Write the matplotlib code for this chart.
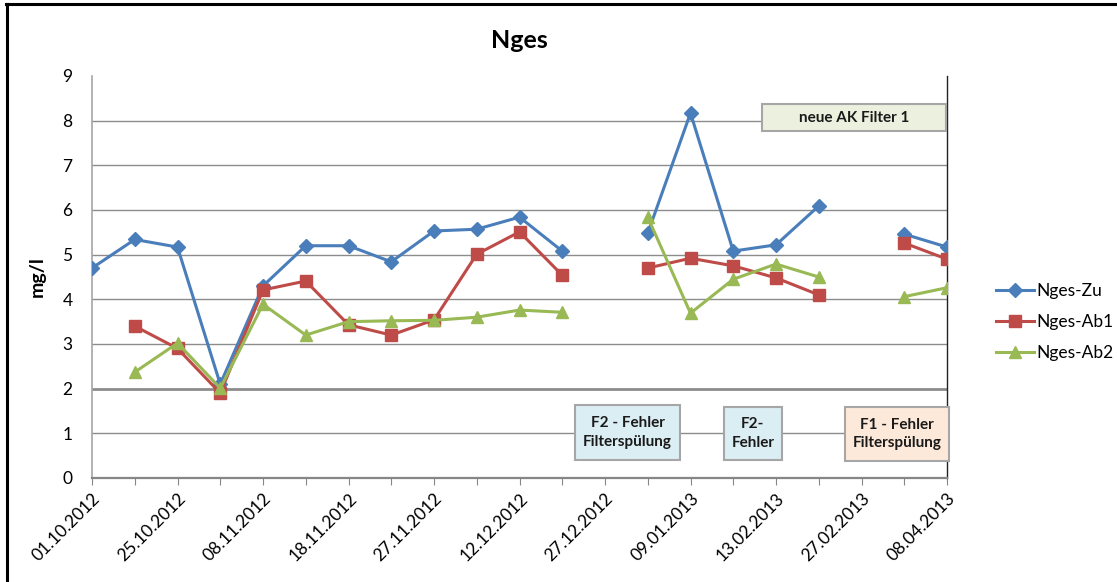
import numpy as np
import matplotlib
matplotlib.use("Agg")
import matplotlib.pyplot as plt
from matplotlib.lines import Line2D
from matplotlib.patches import Rectangle

plt.rcParams['font.family'] = ['Lato', 'DejaVu Sans']

# Sampling dates (21 samples; every second one is labelled on the axis)
tick_labels = ["01.10.2012", "25.10.2012", "08.11.2012", "18.11.2012", "27.11.2012",
               "12.12.2012", "27.12.2012", "09.01.2013", "13.02.2013", "27.02.2013",
               "08.04.2013"]
n_samples = 21

nan = np.nan
nges_zu = [4.70, 5.34, 5.17, 2.10, 4.30, 5.20, 5.20, 4.84, 5.53, 5.57, 5.84, 5.08,
           nan, 5.48, 8.17, 5.08, 5.22, 6.09, nan, 5.46, 5.17]
nges_ab1 = [nan, 3.40, 2.90, 1.90, 4.21, 4.41, 3.43, 3.20, 3.54, 5.01, 5.51, 4.54,
            nan, 4.70, 4.92, 4.75, 4.48, 4.10, nan, 5.26, 4.90]
nges_ab2 = [nan, 2.37, 3.02, 2.01, 3.89, 3.20, 3.50, 3.52, 3.53, 3.60, 3.76, 3.71,
            nan, 5.84, 3.69, 4.45, 4.79, 4.50, nan, 4.06, 4.26]

series = [
    ("Nges-Zu", nges_zu, "#4A7EBB", "D", 7),
    ("Nges-Ab1", nges_ab1, "#BE4B48", "s", 8.5),
    ("Nges-Ab2", nges_ab2, "#98B954", "^", 9),
]

fig = plt.figure(figsize=(11.17, 5.82), dpi=100)
ax = fig.add_axes([92 / 1117, 1 - 478 / 582, (947 - 92) / 1117, (478 - 76) / 582])

x = np.arange(n_samples)

# horizontal grid
for g in range(1, 9):
    ax.axhline(g, color="#8C8C8C", lw=2.0 if g == 2 else 1.0, zorder=1)

for name, vals, col, mk, ms in series:
    ax.plot(x, vals, color=col, lw=2.2, marker=mk, markersize=ms,
            markerfacecolor=col, markeredgecolor=col, label=name, zorder=3)

ax.set_xlim(0, n_samples - 1)
ax.set_ylim(0, 9)
ax.set_yticks(range(0, 10))
ax.tick_params(axis="y", length=0, labelsize=12.5, pad=14)
ax.set_xticks(x)
ax.set_xticklabels([tick_labels[i // 2] if i % 2 == 0 else "" for i in x],
                   rotation=45, ha="right", va="top", rotation_mode="anchor",
                   fontsize=12.5)
ax.tick_params(axis="x", length=5, color="#868686", direction="out", pad=4)

ax.spines["top"].set_visible(False)
ax.spines["left"].set_color("#A6A6A6")
ax.spines["left"].set_linewidth(1.2)
ax.spines["bottom"].set_color("#868686")
ax.spines["bottom"].set_linewidth(1.6)
ax.spines["right"].set_color("#222222")
ax.spines["right"].set_linewidth(1.0)

ax.set_ylabel("mg/l", fontsize=14, fontweight="bold", labelpad=12)
ax.set_title("Nges", fontsize=18, fontweight="bold", pad=20)


def note(x0, x1, y0, y1, text, face):
    ax.add_patch(Rectangle((x0, y0), x1 - x0, y1 - y0, facecolor=face,
                           edgecolor="#A6A6A6", lw=1.5, zorder=4, clip_on=False))
    ax.text((x0 + x1) / 2, (y0 + y1) / 2, text, ha="center", va="center",
            fontsize=11, fontweight="bold", color="#1A1A1A", zorder=5,
            linespacing=1.4)


note(15.67, 19.98, 7.77, 8.37, "neue AK Filter 1", "#EBF1DE")
note(11.30, 13.75, 0.40, 1.63, "F2 - Fehler\nFilterspülung", "#DBEEF4")
note(14.78, 16.14, 0.40, 1.59, "F2-\nFehler", "#DBEEF4")
note(17.61, 20.05, 0.38, 1.59, "F1 - Fehler\nFilterspülung", "#FDE9D9")

fig.legend(loc="center left", bbox_to_anchor=(980 / 1117, 1 - 322 / 582),
           frameon=False, fontsize=12.5, handlelength=2.2, handletextpad=0.15,
           labelspacing=0.85)

# chart frame
fig.add_artist(Line2D([6 / 1117, 1], [1 - 3.5 / 582, 1 - 3.5 / 582],
                      transform=fig.transFigure, color="black", lw=2.2))
fig.add_artist(Line2D([7 / 1117, 7 / 1117], [0, 1 - 3.5 / 582],
                      transform=fig.transFigure, color="black", lw=2.2))

fig.savefig("out.png", dpi=100, facecolor="white")
